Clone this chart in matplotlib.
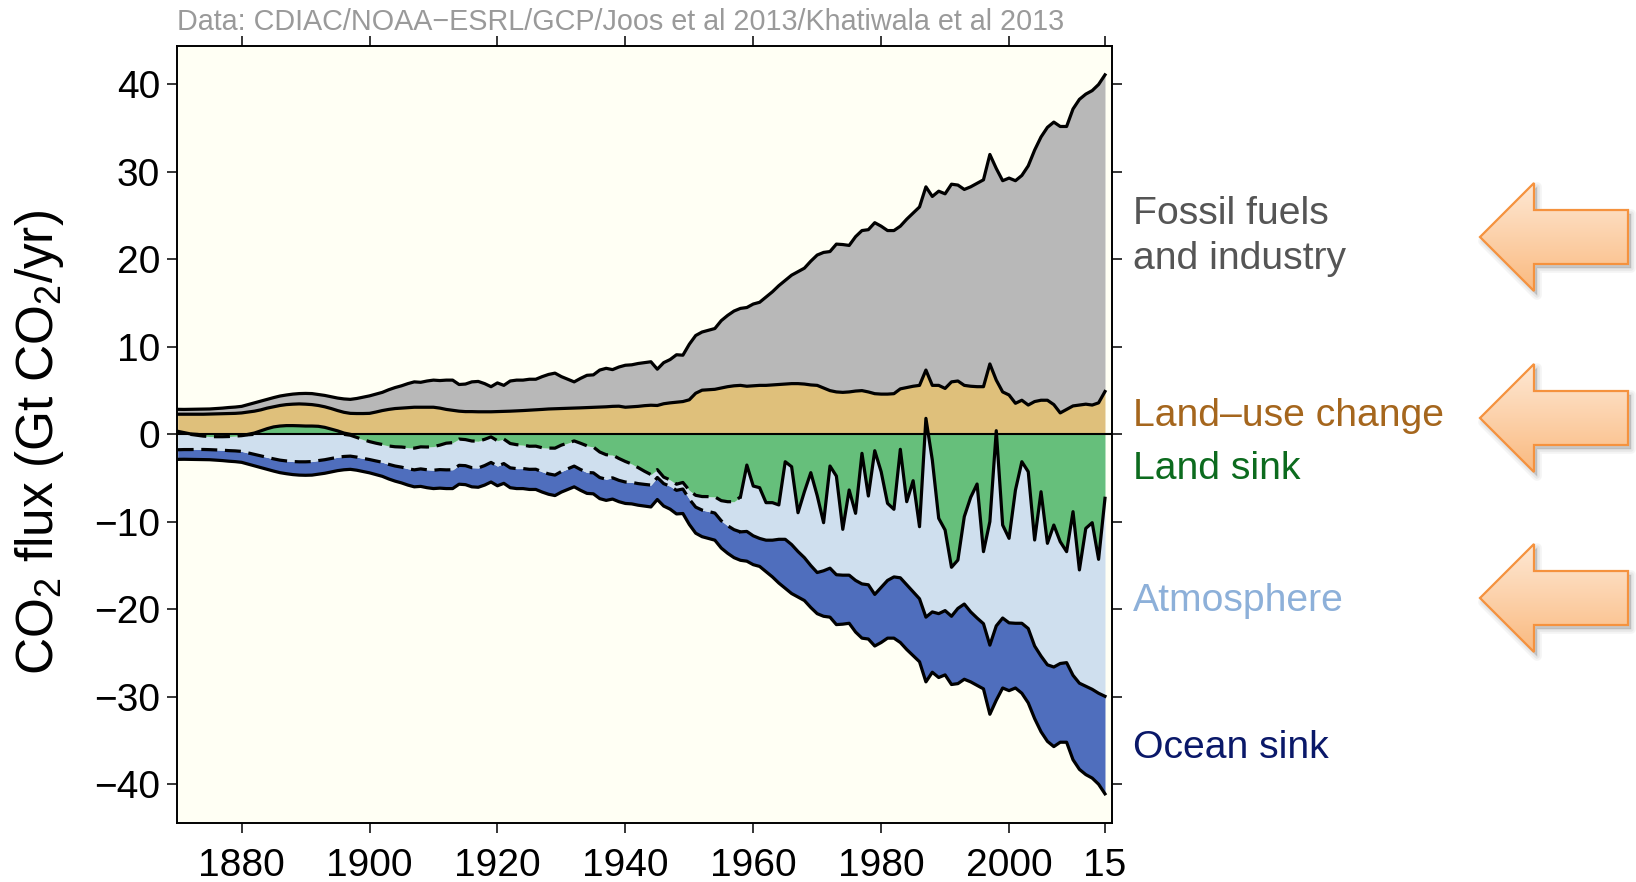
import numpy as np
import matplotlib
matplotlib.use("Agg")
import matplotlib.pyplot as plt
from matplotlib.patches import Polygon

plt.rcParams["font.family"] = ["Liberation Sans", "DejaVu Sans"]
plt.rcParams["mathtext.fontset"] = "custom"
plt.rcParams["mathtext.rm"] = "Liberation Sans"
plt.rcParams["mathtext.it"] = "Liberation Sans:italic"
plt.rcParams["mathtext.bf"] = "Liberation Sans:bold"

# Global CO2 budget, Gt CO2 per year, 1870-2015
years = np.arange(1870, 2016)

fossil = np.array([
    0.56, 0.55, 0.56, 0.56, 0.57, 0.58, 0.61, 0.64, 0.69, 0.72,        # 1870s
    0.75, 0.85, 0.95, 1.00, 1.00, 1.05, 1.08, 1.10, 1.15, 1.18,        # 1880s
    1.23, 1.26, 1.25, 1.30, 1.35, 1.43, 1.53, 1.60, 1.72, 1.87,        # 1890s
    2.00, 2.05, 2.08, 2.25, 2.40, 2.55, 2.75, 2.90, 2.85, 3.00,        # 1900s
    3.10, 3.15, 3.35, 3.45, 3.05, 3.15, 3.40, 3.47, 3.22, 2.87,        # 1910s
    3.28, 2.98, 3.45, 3.52, 3.48, 3.54, 3.50, 3.75, 3.95, 4.07,        # 1920s
    3.64, 3.32, 3.00, 3.37, 3.69, 3.70, 4.23, 4.40, 4.20, 4.48,        # 1930s
    4.80, 4.80, 4.90, 4.92, 4.97, 4.15, 4.70, 4.95, 5.42, 5.30,        # 1940s
    6.35, 6.60, 6.65, 6.80, 6.95, 7.70, 8.15, 8.55, 8.80, 9.00,        # 1950s
    9.35, 9.50, 10.10, 10.65, 11.30, 11.85, 12.40, 12.80, 13.25, 14.15,  # 1960s
    14.90, 15.50, 15.90, 16.90, 16.90, 16.75, 17.65, 18.30, 18.55, 19.55,  # 1970s
    19.20, 18.70, 18.65, 18.60, 19.25, 19.80, 20.40, 20.95, 21.60, 22.20,  # 1980s
    22.25, 22.60, 22.40, 22.40, 22.80, 23.25, 23.65, 23.95, 24.20, 24.15,  # 1990s
    24.80, 25.45, 25.70, 27.35, 28.75, 30.10, 31.20, 32.30, 32.75, 32.35,  # 2000s
    33.95, 34.95, 35.45, 35.95, 36.40, 36.20,                              # 2010-2015
])

land_use = np.array([
    2.30, 2.30, 2.30, 2.30, 2.30, 2.32, 2.34, 2.36, 2.38, 2.40,
    2.45, 2.55, 2.65, 2.80, 3.00, 3.15, 3.30, 3.40, 3.45, 3.48,
    3.45, 3.40, 3.30, 3.15, 2.95, 2.72, 2.52, 2.40, 2.38, 2.38,
    2.40, 2.55, 2.72, 2.85, 2.95, 3.00, 3.05, 3.10, 3.10, 3.10,
    3.10, 3.00, 2.85, 2.75, 2.65, 2.60, 2.60, 2.58, 2.58, 2.58,
    2.60, 2.62, 2.65, 2.68, 2.72, 2.76, 2.80, 2.85, 2.90, 2.93,
    2.96, 2.98, 3.00, 3.03, 3.06, 3.10, 3.12, 3.15, 3.20, 3.22,
    3.10, 3.15, 3.20, 3.28, 3.33, 3.30, 3.50, 3.60, 3.68, 3.75,
    3.95, 4.70, 5.05, 5.10, 5.15, 5.30, 5.45, 5.55, 5.60, 5.50,
    5.55, 5.60, 5.60, 5.65, 5.70, 5.75, 5.80, 5.80, 5.75, 5.65,
    5.60, 5.30, 5.00, 4.85, 4.80, 4.85, 4.95, 5.00, 4.85, 4.65,
    4.60, 4.60, 4.65, 5.20, 5.35, 5.50, 5.60, 7.35, 5.60, 5.60,
    5.25, 6.00, 6.10, 5.60, 5.50, 5.45, 5.45, 8.05, 6.20, 4.85,
    4.50, 3.55, 3.90, 3.35, 3.75, 3.90, 3.90, 3.40, 2.45, 2.85,
    3.25, 3.35, 3.45, 3.35, 3.60, 4.90,
])

ocean = np.array([
    1.10, 1.11, 1.12, 1.13, 1.14, 1.15, 1.17, 1.19, 1.21, 1.23,
    1.25, 1.28, 1.31, 1.34, 1.37, 1.40, 1.43, 1.46, 1.49, 1.52,
    1.54, 1.55, 1.55, 1.55, 1.54, 1.53, 1.52, 1.51, 1.50, 1.50,
    1.52, 1.56, 1.61, 1.67, 1.73, 1.80, 1.87, 1.94, 2.00, 2.05,
    2.10, 2.12, 2.14, 2.15, 2.16, 2.17, 2.19, 2.21, 2.23, 2.24,
    2.25, 2.26, 2.27, 2.28, 2.29, 2.30, 2.31, 2.32, 2.33, 2.34,
    2.35, 2.36, 2.37, 2.38, 2.39, 2.40, 2.41, 2.42, 2.43, 2.44,
    2.45, 2.46, 2.47, 2.48, 2.50, 2.52, 2.56, 2.62, 2.70, 2.80,
    2.90, 2.98, 3.04, 3.08, 3.10, 3.12, 3.15, 3.20, 3.25, 3.40,
    3.30, 3.20, 3.60, 4.20, 5.00, 5.60, 5.60, 5.20, 4.90, 4.80,
    4.70, 5.20, 5.60, 5.70, 5.60, 5.50, 5.90, 6.20, 6.20, 5.90,
    6.30, 6.60, 7.00, 7.40, 7.40, 7.30, 7.20, 7.40, 6.90, 7.30,
    7.35, 7.80, 8.60, 8.60, 8.00, 7.70, 7.45, 7.90, 8.50, 8.00,
    7.75, 7.40, 8.00, 8.50, 8.30, 8.65, 8.75, 9.10, 9.00, 9.10,
    9.65, 9.85, 10.10, 10.15, 10.40, 11.15,
])

atmosphere = np.array([
    2.11, 1.94, 1.79, 1.63, 1.53, 1.50, 1.51, 1.54, 1.61, 1.69,
    1.80, 2.07, 2.44, 2.86, 3.28, 3.65, 3.90, 4.04, 4.11, 4.12,
    4.09, 4.06, 3.92, 3.70, 3.36, 3.02, 2.68, 2.39, 2.25, 2.15,
    2.05, 2.03, 2.03, 2.10, 2.20, 2.30, 2.40, 2.48, 2.52, 2.60,
    2.70, 2.80, 3.05, 3.10, 3.00, 2.98, 3.05, 3.05, 3.00, 2.92,
    2.90, 2.80, 2.78, 2.74, 2.68, 2.64, 2.64, 2.75, 2.95, 3.08,
    3.02, 2.94, 2.88, 3.00, 3.05, 2.95, 2.92, 2.80, 2.60, 2.50,
    2.35, 2.10, 1.83, 1.50, 1.20, 0.90, 0.75, 0.72, 0.70, 0.75,
    1.00, 1.35, 1.55, 1.70, 1.85, 2.30, 2.75, 3.20, 4.00, 7.59,
    5.69, 5.80, 4.29, 4.29, 3.93, 8.87, 8.90, 4.44, 7.54, 10.62,
    8.80, 5.50, 11.68, 11.28, 5.24, 9.74, 7.67, 14.93, 10.15, 16.43,
    13.23, 8.81, 7.73, 14.69, 9.50, 12.70, 8.24, 22.73, 17.36, 10.90,
    9.21, 5.60, 5.53, 9.99, 13.10, 15.32, 8.24, 14.12, 22.32, 10.63,
    9.66, 15.23, 18.47, 17.93, 12.12, 18.79, 13.89, 16.23, 13.93, 12.69,
    18.71, 12.95, 18.05, 19.05, 15.31, 22.64,
])

# the land sink closes the budget
emissions = fossil + land_use
land_sink = emissions - ocean - atmosphere

# sinks are stacked downward from zero: land, atmosphere, ocean
ocean_top = -emissions + ocean
land_edge = -land_sink

W, H = 1636, 882
fig = plt.figure(figsize=(W / 100, H / 100), dpi=100)
ax = fig.add_axes([176.7 / W, 1 - 822.7 / H, 935 / W, 776.7 / H])
ax.set_facecolor("#fffff4")

ax.fill_between(years, land_use, emissions, color="#b8b8b8", lw=0)
ax.fill_between(years, 0, land_use, color="#dfc07b", lw=0)
ax.fill_between(years, -emissions, ocean_top, color="#4f6ebd", lw=0)
ax.fill_between(years, ocean_top, land_edge, color="#cfdfee", lw=0)
ax.fill_between(years, 0, land_edge, color="#66bf7b", lw=0)

solid = dict(color="black", lw=2.3, solid_joinstyle="round", zorder=4)
dashed = dict(color="black", lw=2.3, linestyle=(0, (5.0, 2.4)), zorder=4)

ax.axhline(0, color="black", lw=1.5, zorder=3)
ax.plot(years, emissions, **solid)
ax.plot(years, land_use, **solid)
ax.plot(years, -emissions, **solid)

# before 1959 the atmosphere comes from ice cores: dashed sink edges
early = years <= 1958
late = years >= 1958
ax.plot(years[early], ocean_top[early], **dashed)
ax.plot(years[late], ocean_top[late], **solid)

edge = land_edge[early]
pos = edge > 0
near_pos = pos | np.r_[pos[1:], False] | np.r_[False, pos[:-1]]
neg = edge < 0
near_neg = neg | np.r_[neg[1:], False] | np.r_[False, neg[:-1]]
ax.plot(years[early], np.where(near_pos, np.maximum(edge, 0), np.nan), **solid)
ax.plot(years[early], np.where(near_neg, np.minimum(edge, 0), np.nan), **dashed)
ax.plot(years[late], land_edge[late], **solid)

ax.set_xlim(1869.85, 2016.05)
ax.set_ylim(-44.4, 44.4)
ax.set_yticks(np.arange(-40, 41, 10))
xticks = [1880, 1900, 1920, 1940, 1960, 1980, 2000, 2015]
ax.set_xticks(xticks)
ax.set_xticklabels([str(y) if y < 2015 else "15" for y in xticks])
ax.tick_params(direction="out", length=7, width=1.1, labelsize=28,
               top=True, right=True, pad=5)
ax.tick_params(axis="x", pad=11)
for spine in ax.spines.values():
    spine.set_linewidth(1.4)

fig.text(40 / W, 1 - 443 / H, r"CO$_2$ flux (Gt CO$_2$/yr)", rotation=90,
         ha="center", va="center", fontsize=37)
fig.text(177 / W, 1 - 30 / H,
         "Data: CDIAC/NOAA\u2212ESRL/GCP/Joos et al 2013/Khatiwala et al 2013",
         color="#9a9a9a", fontsize=20.7, ha="left", va="baseline")

# overlay in pixel units for the side labels and arrows
deco = fig.add_axes([0, 0, 1, 1], zorder=5)
deco.set_xlim(0, W)
deco.set_ylim(H, 0)
deco.axis("off")

labels = [
    ("Fossil fuels", "#555555", 224),
    ("and industry", "#555555", 269),
    ("Land\u2013use change", "#a5661d", 426),
    ("Land sink", "#0c6b1e", 479),
    ("Atmosphere", "#8db0d9", 611),
    ("Ocean sink", "#0a1869", 758),
]
for text, color, base in labels:
    deco.text(1133, base, text, color=color, fontsize=28.2, ha="left", va="baseline")

grad = np.linspace(0, 1, 256)[:, None]
top_rgb = np.array([254, 232, 212]) / 255
bot_rgb = np.array([250, 186, 128]) / 255
gradient = top_rgb + (bot_rgb - top_rgb) * grad[..., None]
gradient = np.repeat(gradient, 2, axis=1)

for cy in (237, 418, 598):
    x0, xh, xr = 1480, 1534, 1628
    pts = [(x0, cy), (xh, cy - 54), (xh, cy - 27), (xr, cy - 27),
           (xr, cy + 27), (xh, cy + 27), (xh, cy + 54)]
    shadow = [(x + 3, y + 4) for x, y in pts]
    for lw, a in ((7, 0.08), (4, 0.10), (1, 0.14)):
        deco.add_patch(Polygon(shadow, closed=True, fc="#7a7a7a", ec="#7a7a7a",
                               lw=lw, alpha=a, joinstyle="round"))
    img = deco.imshow(gradient, extent=(x0, xr, cy + 54, cy - 54), origin="upper",
                      aspect="auto", zorder=2, interpolation="bilinear")
    img.set_clip_path(Polygon(pts, closed=True, transform=deco.transData))
    deco.add_patch(Polygon(pts, closed=True, fc="none", ec="#f5923e", lw=1.6,
                           joinstyle="miter", zorder=3))

deco.set_xlim(0, W)
deco.set_ylim(H, 0)

fig.savefig("out.png", dpi=100)
